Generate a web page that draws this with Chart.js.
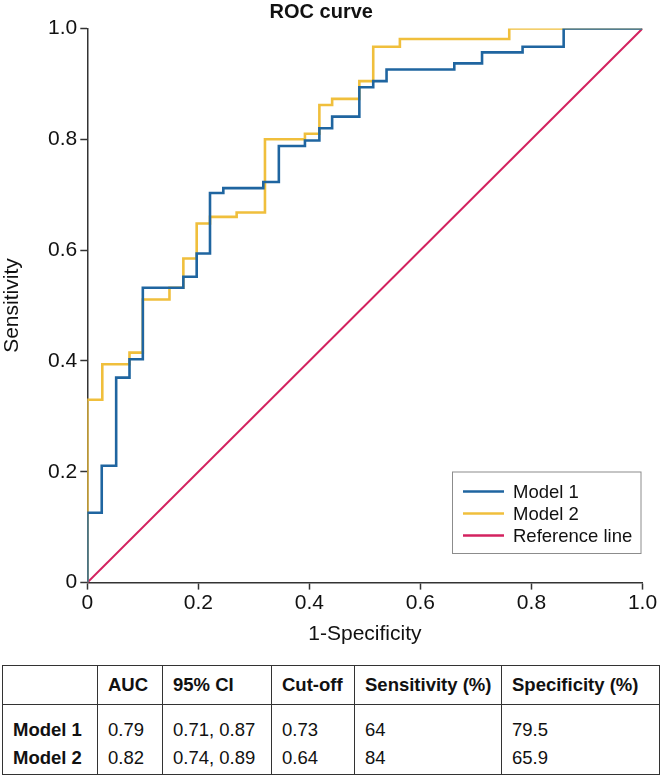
<!DOCTYPE html>
<html>
<head>
<meta charset="utf-8">
<script src="https://cdn.jsdelivr.net/npm/chart.js@4"></script>
<style>
  html, body { margin: 0; padding: 0; background: #fff; }
  #wrap { position: relative; width: 661px; height: 779px; }
  #c { position: absolute; left: 0; top: 0; }
  table {
    position: absolute; left: 2px; top: 665px; width: 657px;
    border-collapse: collapse; table-layout: fixed;
    font-family: "Liberation Sans", Arial, sans-serif; font-size: 18.5px; color: #111;
    border: 1px solid #333;
  }
  th, td { border-left: 1px solid #333; border-right: 1px solid #333; text-align: left; padding: 0 0 0 10px; white-space: nowrap; }
  thead th { height: 38px; font-weight: bold; border-bottom: 1px solid #333; vertical-align: middle; padding-top: 0; padding-bottom: 0; }
  tbody td { line-height: 28px; vertical-align: top; }
  tbody tr.r1 td { padding-top: 11px; }
  tbody tr.r2 td { padding-bottom: 2px; }
  tbody td.name { font-weight: bold; }
</style>
</head>
<body>
<div id="wrap">
  <canvas id="c" width="661" height="650"></canvas>
  <table id="tbl"></table>
</div>
<script>
// ---- data ----
const seriesLabels = ['Model 1', 'Model 2', 'Reference line'];
const model1Fpr = [0, 0, 0.026, 0.026, 0.052, 0.052, 0.076, 0.076, 0.100, 0.100, 0.173, 0.173, 0.197, 0.197, 0.221, 0.221, 0.245, 0.245, 0.317, 0.317, 0.345, 0.345, 0.392, 0.392, 0.418, 0.418, 0.441, 0.441, 0.490, 0.490, 0.515, 0.515, 0.539, 0.539, 0.661, 0.661, 0.711, 0.711, 0.784, 0.784, 0.858, 0.858, 1.0];
const model1Tpr = [0, 0.126, 0.126, 0.211, 0.211, 0.370, 0.370, 0.403, 0.403, 0.532, 0.532, 0.552, 0.552, 0.594, 0.594, 0.703, 0.703, 0.712, 0.712, 0.723, 0.723, 0.788, 0.788, 0.798, 0.798, 0.820, 0.820, 0.841, 0.841, 0.894, 0.894, 0.905, 0.905, 0.926, 0.926, 0.937, 0.937, 0.957, 0.957, 0.967, 0.967, 1.0, 1.0];
const model2Fpr = [0, 0, 0.027, 0.027, 0.076, 0.076, 0.100, 0.100, 0.148, 0.148, 0.173, 0.173, 0.197, 0.197, 0.221, 0.221, 0.269, 0.269, 0.320, 0.320, 0.392, 0.392, 0.418, 0.418, 0.441, 0.441, 0.490, 0.490, 0.515, 0.515, 0.563, 0.563, 0.760, 0.760, 1.0];
const model2Tpr = [0, 0.330, 0.330, 0.394, 0.394, 0.415, 0.415, 0.511, 0.511, 0.532, 0.532, 0.585, 0.585, 0.648, 0.648, 0.660, 0.660, 0.668, 0.668, 0.800, 0.800, 0.810, 0.810, 0.862, 0.862, 0.873, 0.873, 0.905, 0.905, 0.967, 0.967, 0.981, 0.981, 1.0, 1.0];
const refFpr = [0, 1];
const refTpr = [0, 1];
const xTickLabels = ['0', '0.2', '0.4', '0.6', '0.8', '1.0'];
const yTickLabels = ['0', '0.2', '0.4', '0.6', '0.8', '1.0'];

const tableHeaders = ['', 'AUC', '95% CI', 'Cut-off', 'Sensitivity (%)', 'Specificity (%)'];
const tableModels = ['Model 1', 'Model 2'];
const tableAuc = ['0.79', '0.82'];
const tableCi = ['0.71, 0.87', '0.74, 0.89'];
const tableCutoff = ['0.73', '0.64'];
const tableSensitivity = ['64', '84'];
const tableSpecificity = ['79.5', '65.9'];

// ---- table ----
(function buildTable() {
  const widths = [95, 65, 109, 83, 147, 158];
  const t = document.getElementById('tbl');
  let html = '<colgroup>' + widths.map(w => '<col style="width:' + w + 'px">').join('') + '</colgroup>';
  html += '<thead><tr>' + tableHeaders.map(h => '<th>' + h + '</th>').join('') + '</tr></thead><tbody>';
  tableModels.forEach((m, i) => {
    html += '<tr class="r' + (i + 1) + '"><td class="name">' + m + '</td><td>' + tableAuc[i] + '</td><td>' + tableCi[i] +
      '</td><td>' + tableCutoff[i] + '</td><td>' + tableSensitivity[i] + '</td><td>' + tableSpecificity[i] + '</td></tr>';
  });
  html += '</tbody>';
  t.innerHTML = html;
})();

// ---- chart ----
const colors = ['#1f65a0', '#f0bf3c', '#d3225f'];
const widthsLine = [2.6, 2.6, 2];
function pts(xs, ys) { return xs.map((x, i) => ({ x: x, y: ys[i] })); }

Chart.defaults.font.family = '"Liberation Sans", Arial, sans-serif';
Chart.defaults.color = '#111';

const legendPlugin = {
  id: 'boxLegend',
  afterDatasetsDraw(chart) {
    const ca = chart.chartArea, ctx = chart.ctx;
    const w = 189.5, h = 82.5;
    const x0 = ca.right - 1 - w, y0 = ca.bottom - 28.6 - h;
    ctx.save();
    ctx.fillStyle = '#fff';
    ctx.fillRect(x0, y0, w, h);
    ctx.strokeStyle = '#8c8c8c';
    ctx.lineWidth = 1;
    ctx.strokeRect(x0 + 0.5, y0 + 0.5, w - 1, h - 1);
    ctx.font = '18.5px "Liberation Sans", Arial, sans-serif';
    ctx.textBaseline = 'middle';
    ctx.textAlign = 'left';
    chart.data.datasets.forEach((ds, i) => {
      const yy = y0 + 20 + i * 22;
      ctx.strokeStyle = ds.borderColor;
      ctx.lineWidth = 2.5;
      ctx.beginPath();
      ctx.moveTo(x0 + 11, yy);
      ctx.lineTo(x0 + 52, yy);
      ctx.stroke();
      ctx.fillStyle = '#111';
      ctx.fillText(ds.label, x0 + 61, yy + 1);
    });
    ctx.restore();
  }
};

new Chart(document.getElementById('c'), {
  type: 'line',
  data: {
    datasets: [
      { label: seriesLabels[0], data: pts(model1Fpr, model1Tpr), borderColor: colors[0], borderWidth: widthsLine[0] },
      { label: seriesLabels[1], data: pts(model2Fpr, model2Tpr), borderColor: colors[1], borderWidth: widthsLine[1] },
      { label: seriesLabels[2], data: pts(refFpr, refTpr), borderColor: colors[2], borderWidth: widthsLine[2] }
    ]
  },
  options: {
    responsive: false,
    animation: false,
    parsing: true,
    elements: { point: { radius: 0 }, line: { tension: 0, fill: false, borderCapStyle: 'butt', borderJoinStyle: 'miter' } },
    layout: { padding: { left: 0, right: 18.5, top: 0, bottom: 0 } },
    plugins: {
      legend: { display: false },
      tooltip: { enabled: false },
      title: {
        display: true, text: 'ROC curve', color: '#111',
        font: { size: 20, weight: 'bold' }, padding: { top: 0, bottom: 4.5 }
      }
    },
    scales: {
      x: {
        type: 'linear', min: 0, max: 1,
        afterFit(s) { s.height = 67.4; },
        ticks: { stepSize: 0.2, color: '#111', font: { size: 21 }, padding: 1, maxRotation: 0,
          callback: (v, i) => xTickLabels[i] },
        grid: { display: true, drawOnChartArea: false, drawTicks: true, tickLength: 7, color: '#333', tickWidth: 1.5 },
        border: { display: true, color: '#333', width: 1.5 },
        title: { display: true, text: '1-Specificity', color: '#111', font: { size: 21 }, padding: { top: 0, bottom: 3.4 } }
      },
      y: {
        type: 'linear', min: 0, max: 1,
        afterFit(s) { s.width = 87.3; },
        ticks: { stepSize: 0.2, color: '#111', font: { size: 21 }, padding: 3,
          callback: (v, i) => yTickLabels[i] },
        grid: { display: true, drawOnChartArea: false, drawTicks: true, tickLength: 7, color: '#333', tickWidth: 1.5 },
        border: { display: true, color: '#333', width: 1.5 },
        title: { display: true, text: 'Sensitivity', color: '#111', font: { size: 21 }, padding: { top: 0, bottom: 0 } }
      }
    }
  },
  plugins: [legendPlugin]
});
</script>
</body>
</html>
